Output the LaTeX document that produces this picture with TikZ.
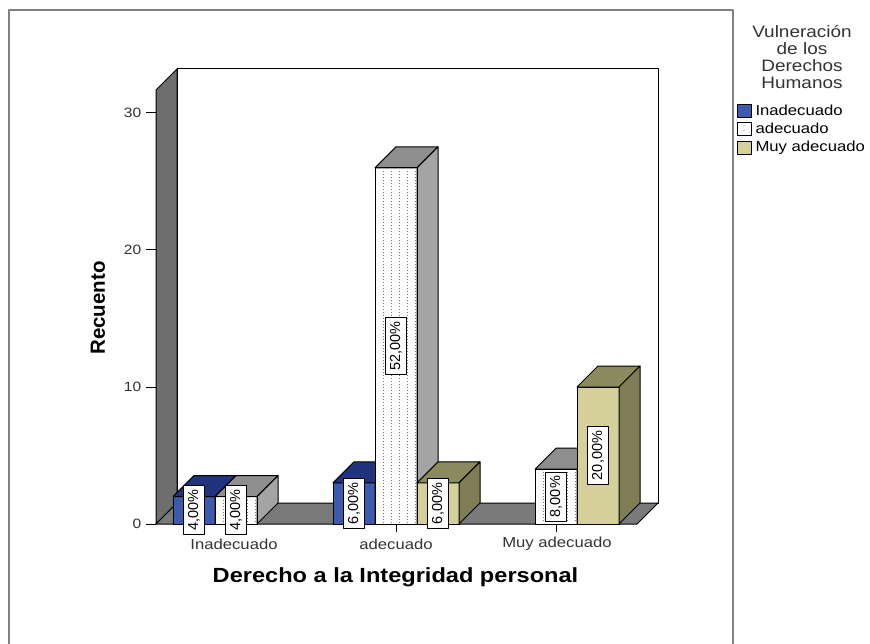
\documentclass[tikz,border=0pt]{standalone}
\usepackage{fontspec}
\setmainfont{Liberation Sans}
\newfontfamily\wide[FakeStretch=1.15]{Liberation Sans}
\usetikzlibrary{calc}
\definecolor{bluef}{HTML}{3E5AAE}
\definecolor{bluet}{HTML}{22337E}
\definecolor{blues}{HTML}{2B408C}
\definecolor{whitef}{HTML}{FFFFFF}
\definecolor{whitet}{HTML}{8E8E8E}
\definecolor{whites}{HTML}{A4A4A4}
\definecolor{yelf}{HTML}{D5D09A}
\definecolor{yelt}{HTML}{8B895E}
\definecolor{yels}{HTML}{7F7C56}
\definecolor{wallc}{HTML}{6E6E6E}
\definecolor{floorc}{HTML}{7A7A7A}
\definecolor{framec}{HTML}{808080}
\definecolor{dotc}{HTML}{7A7A7A}
\definecolor{textc}{HTML}{333333}
\newcommand\barbox[5]{%
  \pgfmathsetmacro\bt{524-13.7*#2}%
  \filldraw[fill=#3] (#1,524) rectangle (#1+42,\bt);
  \filldraw[fill=#4] (#1,\bt) -- (#1+21,\bt-21) -- (#1+63,\bt-21) -- (#1+42,\bt) -- cycle;
  \filldraw[fill=#5] (#1+42,524) -- (#1+42,\bt) -- (#1+63,\bt-21) -- (#1+63,503) -- cycle;
}
\newcommand\dotfront[2]{%
  \pgfmathsetmacro\bt{524-13.7*#2}%
  \foreach \k in {8,16,24,32,40}{\draw[dotc, line width=1pt, dash pattern=on 1pt off 2pt] (#1+\k,\bt+3) -- (#1+\k,523);}
  \draw[line width=1pt] (#1,524) rectangle (#1+42,\bt);
}
\begin{document}
\begin{tikzpicture}[x=1pt,y=-1pt,line join=round,line width=1pt,
  lbl/.style={draw=black, fill=white, rotate=90, text=black, font=\fontsize{14.5}{15}\selectfont, inner xsep=4pt, inner ysep=4.5pt, line width=0.9pt},
  ticklbl/.style={anchor=east, text=textc, font=\wide\fontsize{13.5}{14}\selectfont},
  catlbl/.style={text=textc, font=\wide\fontsize{14.5}{16}\selectfont},
  axtitle/.style={text=black, font=\wide\bfseries\fontsize{20.5}{22}\selectfont},
  legtxt/.style={anchor=west, text=black, font=\wide\fontsize{14.5}{16}\selectfont, inner sep=0pt}]
\useasboundingbox (0,0) rectangle (870,644);
\fill[white] (0,0) rectangle (870,644);
% frame
\draw[framec, line width=2pt] (9,644) -- (9,10) -- (733,10) -- (733,644);
% walls
\filldraw[fill=white] (177,69) rectangle (658,503);
\filldraw[fill=wallc] (156,524) -- (156,90) -- (177,69) -- (177,503) -- cycle;
\filldraw[fill=floorc] (156,524) -- (177,503) -- (658,503) -- (637,524) -- cycle;
% y ticks
\foreach \v in {0,10,20,30}{
  \draw[line width=1pt] (146,524-13.7*\v) -- (156,524-13.7*\v);
  \node[ticklbl] (yt\v) at (145,524-13.7*\v) {\v};
}
% category ticks
\foreach \c in {236,396,556}{\draw[line width=1pt] (\c,524) -- (\c,532);}
% group 1
\barbox{173}{2}{bluef}{bluet}{blues}
\barbox{215}{2}{whitef}{whitet}{whites}
\dotfront{215}{2}
% group 2
\barbox{333}{3}{bluef}{bluet}{blues}
\barbox{375}{26}{whitef}{whitet}{whites}
\dotfront{375}{26}
\barbox{417}{3}{yelf}{yelt}{yels}
% group 3
\barbox{535}{4}{whitef}{whitet}{whites}
\dotfront{535}{4}
\barbox{577}{10}{yelf}{yelt}{yels}
% value labels
\node[lbl] (l1) at (194,510.3) {4,00\%};
\node[lbl] (l2) at (236,510.3) {4,00\%};
\node[lbl] (l3) at (354,503.5) {6,00\%};
\node[lbl] (l4) at (396,345.9) {52,00\%};
\node[lbl] (l5) at (438,503.5) {6,00\%};
\node[lbl] (l6) at (556,496.6) {8,00\%};
\node[lbl] (l7) at (598,455.5) {20,00\%};
% category labels
\node[catlbl] (c1) at (234,544) {Inadecuado};
\node[catlbl] (c2) at (396,544) {adecuado};
\node[catlbl] (c3) at (557,544) {Muy adecuado};
% axis titles
\node[axtitle] (xt) at (395.5,577) {Derecho a la Integridad personal};
\node[axtitle, font=\bfseries\fontsize{20.5}{22}\selectfont, rotate=90] (ytitle) at (98,308) {Recuento};
% legend
\node[align=center, text=textc, font=\wide\fontsize{16.5}{16.8}\selectfont] (legt) at (802,57) {Vulneración\\de los\\Derechos\\Humanos};
\filldraw[fill=bluef, line width=0.8pt] (737,104) rectangle (751,117);
\filldraw[fill=white, line width=0.8pt] (737,122) rectangle (751,135);
\fill[dotc] (744,126) circle (0.7) (744,130.5) circle (0.7);
\filldraw[fill=yelf, line width=0.8pt] (737,141) rectangle (751,154);
\node[legtxt] (g1) at (755,110.5) {Inadecuado};
\node[legtxt] (g2) at (755,128.5) {adecuado};
\node[legtxt] (g3) at (755,147.5) {Muy adecuado};
\end{tikzpicture}
\end{document}
